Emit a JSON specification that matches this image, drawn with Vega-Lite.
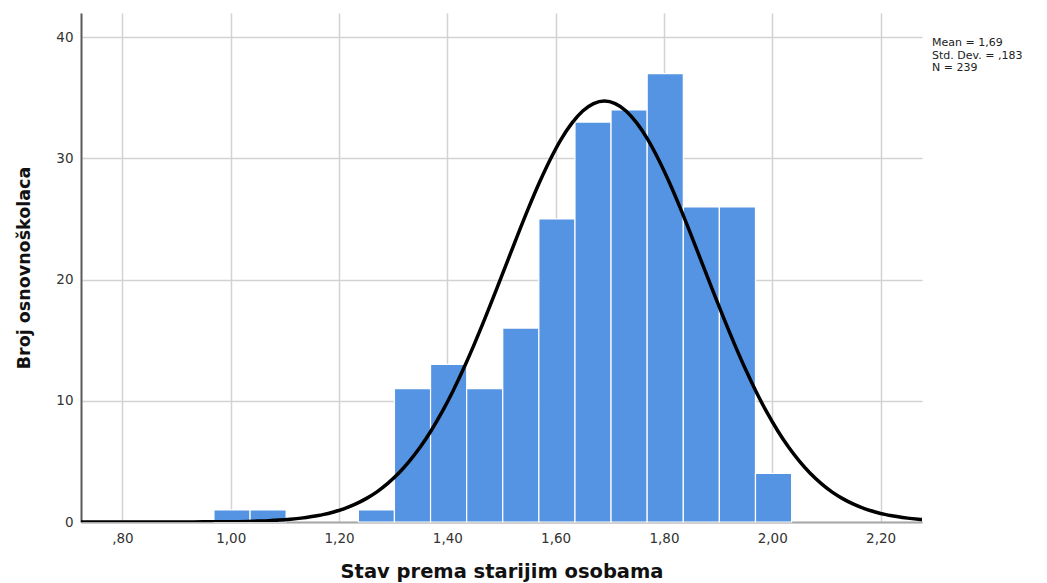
{
  "$schema": "https://vega.github.io/schema/vega-lite/v6.json",
  "width": 841,
  "height": 509,
  "autosize": {"type": "none"},
  "padding": {"left": 81, "top": 13, "right": 125, "bottom": 61},
  "background": "white",
  "config": {
    "view": {"stroke": null},
    "font": "DejaVu Sans",
    "axis": {
      "grid": true,
      "gridColor": "#d2d2d2",
      "gridWidth": 1.5,
      "ticks": false,
      "labelFont": "DejaVu Sans",
      "labelFontSize": 13.5,
      "labelColor": "#333333",
      "titleFont": "DejaVu Sans",
      "titleFontWeight": "bold",
      "titleColor": "#111111"
    }
  },
  "datasets": {
    "bars": [
      {"x0": 0.969, "x1": 1.0357, "count": 1},
      {"x0": 1.0357, "x1": 1.1023, "count": 1},
      {"x0": 1.2357, "x1": 1.3023, "count": 1},
      {"x0": 1.3023, "x1": 1.369, "count": 11},
      {"x0": 1.369, "x1": 1.4357, "count": 13},
      {"x0": 1.4357, "x1": 1.5023, "count": 11},
      {"x0": 1.5023, "x1": 1.569, "count": 16},
      {"x0": 1.569, "x1": 1.6357, "count": 25},
      {"x0": 1.6357, "x1": 1.7023, "count": 33},
      {"x0": 1.7023, "x1": 1.769, "count": 34},
      {"x0": 1.769, "x1": 1.8357, "count": 37},
      {"x0": 1.8357, "x1": 1.9023, "count": 26},
      {"x0": 1.9023, "x1": 1.969, "count": 26},
      {"x0": 1.969, "x1": 2.0357, "count": 4}
    ],
    "curve": [
      {"x": 0.72, "y": 0}, {"x": 0.85, "y": 0}, {"x": 0.93, "y": 0.01}, {"x": 0.97, "y": 0.015},
      {"x": 1.01, "y": 0.03}, {"x": 1.05, "y": 0.08}, {"x": 1.07, "y": 0.11}, {"x": 1.09, "y": 0.16},
      {"x": 1.11, "y": 0.23}, {"x": 1.13, "y": 0.32}, {"x": 1.15, "y": 0.45}, {"x": 1.17, "y": 0.61},
      {"x": 1.19, "y": 0.83}, {"x": 1.21, "y": 1.11}, {"x": 1.23, "y": 1.47}, {"x": 1.25, "y": 1.93},
      {"x": 1.27, "y": 2.49}, {"x": 1.29, "y": 3.19}, {"x": 1.31, "y": 4.02}, {"x": 1.33, "y": 5.02},
      {"x": 1.35, "y": 6.18}, {"x": 1.37, "y": 7.53}, {"x": 1.39, "y": 9.06}, {"x": 1.41, "y": 10.77},
      {"x": 1.43, "y": 12.66}, {"x": 1.45, "y": 14.70}, {"x": 1.47, "y": 16.86}, {"x": 1.49, "y": 19.11},
      {"x": 1.51, "y": 21.41}, {"x": 1.53, "y": 23.70}, {"x": 1.55, "y": 25.92}, {"x": 1.57, "y": 28.01},
      {"x": 1.59, "y": 29.91}, {"x": 1.61, "y": 31.57}, {"x": 1.63, "y": 32.91}, {"x": 1.65, "y": 33.91},
      {"x": 1.67, "y": 34.52}, {"x": 1.69, "y": 34.73}, {"x": 1.71, "y": 34.52}, {"x": 1.73, "y": 33.91},
      {"x": 1.75, "y": 32.91}, {"x": 1.77, "y": 31.57}, {"x": 1.79, "y": 29.91}, {"x": 1.81, "y": 28.01},
      {"x": 1.83, "y": 25.92}, {"x": 1.85, "y": 23.70}, {"x": 1.87, "y": 21.41}, {"x": 1.89, "y": 19.11},
      {"x": 1.91, "y": 16.86}, {"x": 1.93, "y": 14.70}, {"x": 1.95, "y": 12.66}, {"x": 1.97, "y": 10.77},
      {"x": 1.99, "y": 9.06}, {"x": 2.01, "y": 7.53}, {"x": 2.03, "y": 6.18}, {"x": 2.05, "y": 5.02},
      {"x": 2.07, "y": 4.02}, {"x": 2.09, "y": 3.19}, {"x": 2.11, "y": 2.49}, {"x": 2.13, "y": 1.93},
      {"x": 2.15, "y": 1.47}, {"x": 2.17, "y": 1.11}, {"x": 2.19, "y": 0.83}, {"x": 2.21, "y": 0.61},
      {"x": 2.23, "y": 0.45}, {"x": 2.25, "y": 0.32}, {"x": 2.27, "y": 0.23}, {"x": 2.29, "y": 0.16}
    ],
    "stats": [
      {"label": ["Mean = 1,69", "Std. Dev. = ,183", "N = 239"], "xpos": 2.295, "ypos": 40.0}
    ]
  },
  "layer": [
    {
      "data": {"name": "bars"},
      "mark": {"type": "rect", "color": "#5594e3", "stroke": "#ffffff", "strokeWidth": 1.2},
      "encoding": {
        "x": {
          "field": "x0", "type": "quantitative",
          "scale": {"domain": [0.7235, 2.2765], "nice": false, "zero": false},
          "axis": {
            "values": [0.8, 1.0, 1.2, 1.4, 1.6, 1.8, 2.0, 2.2],
            "labelExpr": "datum.value < 1 ? replace(format(datum.value, '.2f'), '0.', ',') : replace(format(datum.value, '.2f'), '.', ',')",
            "title": "Stav prema starijim osobama",
            "titleFontSize": 19.5,
            "labelPadding": 9,
            "titlePadding": 18,
            "domainColor": "#a8a8a8",
            "domainWidth": 2
          }
        },
        "x2": {"field": "x1"},
        "y": {
          "field": "count", "type": "quantitative",
          "scale": {"domain": [0, 42], "nice": false},
          "axis": {
            "values": [0, 10, 20, 30, 40],
            "title": "Broj osnovnoškolaca",
            "titleFontSize": 17.5,
            "labelPadding": 8,
            "titlePadding": 22,
            "domainColor": "#5a5a5a",
            "domainWidth": 2
          }
        },
        "y2": {"datum": 0}
      }
    },
    {
      "data": {"name": "curve"},
      "mark": {"type": "line", "color": "#000000", "strokeWidth": 3.5, "interpolate": "monotone", "clip": true},
      "encoding": {
        "x": {"field": "x", "type": "quantitative"},
        "y": {"field": "y", "type": "quantitative"}
      }
    },
    {
      "data": {"name": "stats"},
      "mark": {"type": "text", "align": "left", "baseline": "top", "fontSize": 11, "lineHeight": 12.5, "color": "#222222", "font": "DejaVu Sans"},
      "encoding": {
        "x": {"field": "xpos", "type": "quantitative"},
        "y": {"field": "ypos", "type": "quantitative"},
        "text": {"field": "label"}
      }
    }
  ]
}
